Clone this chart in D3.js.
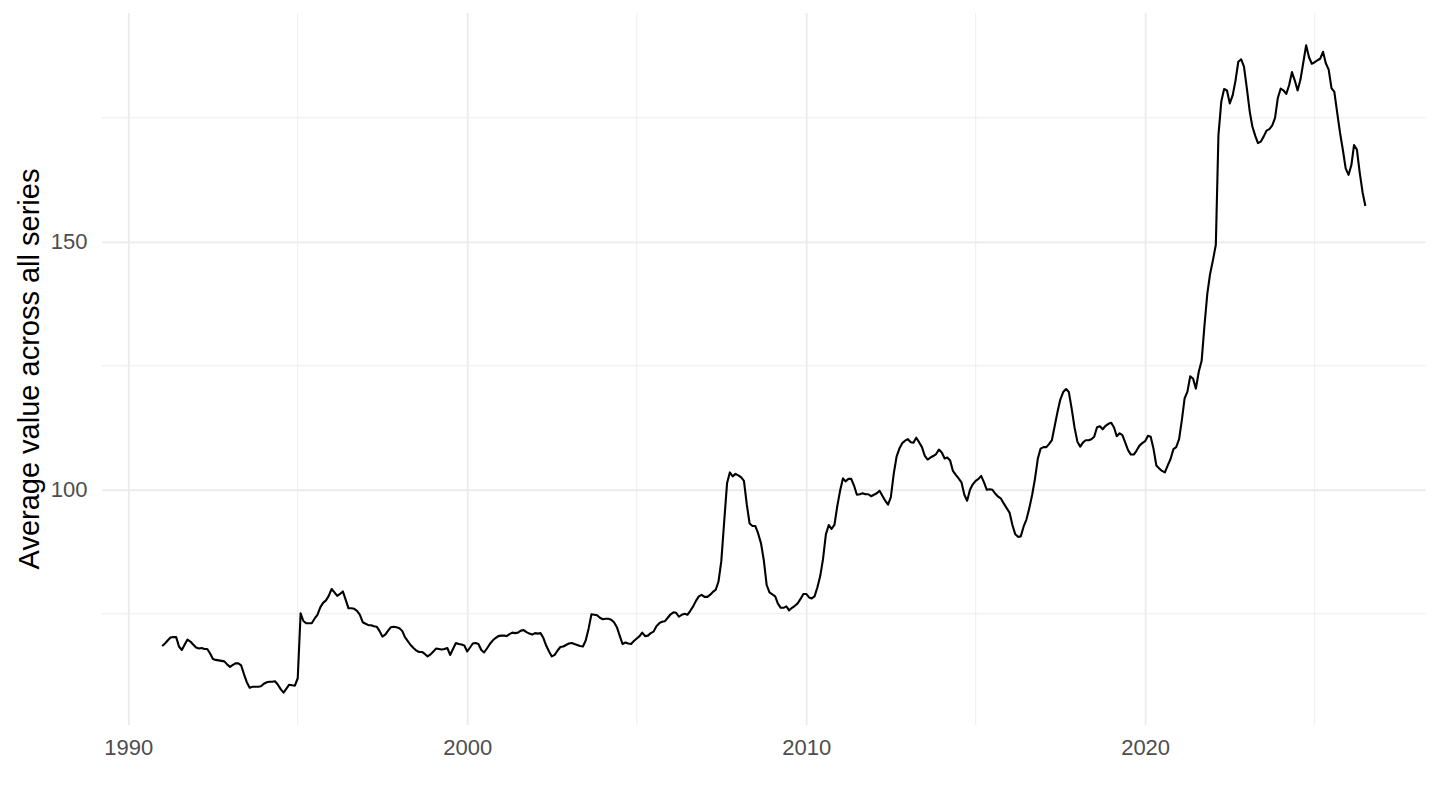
<!DOCTYPE html>
<html>
<head>
<meta charset="utf-8">
<script src="https://cdn.jsdelivr.net/npm/d3@7"></script>
<style>
  body { margin: 0; background: #fff; }
  svg text { font-family: "Liberation Sans", Arial, sans-serif; }
</style>
</head>
<body>
<svg id="chart" width="1440" height="810"></svg>
<script>
// monthly series, first value is Jan 1991
const firstMonth = "1991-01-01";
const avgValue = [
  68.5, 69.0, 69.6, 70.2, 70.3, 70.3, 68.4, 67.7, 68.8, 69.8, 69.4, 68.8,   // 1991
  68.2, 68.0, 68.1, 67.9, 67.9, 67.0, 65.9, 65.7, 65.6, 65.5, 65.4, 64.8,   // 1992
  64.3, 64.7, 65.0, 65.0, 64.6, 62.8, 61.2, 60.1, 60.3, 60.3, 60.3, 60.4,   // 1993
  60.9, 61.2, 61.3, 61.3, 61.4, 60.7, 59.8, 59.1, 59.9, 60.7, 60.6, 60.5,   // 1994
  62.0, 75.1, 73.6, 73.1, 73.1, 73.1, 74.0, 74.8, 76.3, 77.2, 77.7, 78.6,   // 1995
  80.0, 79.3, 78.6, 79.0, 79.5, 77.8, 76.1, 76.1, 76.0, 75.6, 74.8, 73.3,   // 1996
  73.0, 72.7, 72.7, 72.5, 72.4, 71.5, 70.4, 70.8, 71.6, 72.3, 72.4, 72.3,   // 1997
  72.1, 71.5, 70.3, 69.5, 68.7, 68.1, 67.6, 67.3, 67.3, 66.9, 66.4, 66.8,   // 1998
  67.4, 68.0, 67.9, 67.8, 67.9, 68.1, 66.7, 67.9, 69.1, 68.9, 68.8, 68.6,   // 1999
  67.4, 68.2, 69.0, 69.1, 68.9, 67.7, 67.2, 68.0, 68.9, 69.6, 70.1, 70.5,   // 2000
  70.6, 70.6, 70.5, 70.9, 71.2, 71.1, 71.2, 71.6, 71.7, 71.3, 71.0, 70.8,   // 2001
  71.1, 71.0, 71.1, 70.1, 68.6, 67.4, 66.4, 66.7, 67.6, 68.3, 68.4, 68.7,   // 2002
  69.0, 69.1, 68.9, 68.7, 68.5, 68.4, 69.6, 72.0, 74.9, 74.8, 74.7, 74.2,   // 2003
  73.9, 74.0, 74.0, 73.8, 73.3, 72.3, 70.6, 68.9, 69.2, 69.0, 68.9, 69.5,   // 2004
  70.0, 70.5, 71.2, 70.5, 70.6, 71.1, 71.4, 72.5, 73.1, 73.4, 73.5, 74.2,   // 2005
  74.9, 75.3, 75.2, 74.4, 74.8, 75.0, 74.8, 75.6, 76.5, 77.6, 78.5, 78.8,   // 2006
  78.4, 78.4, 78.8, 79.4, 79.8, 81.5, 85.6, 93.5, 101.3, 103.5, 102.7, 103.2, // 2007
  102.9, 102.5, 101.8, 97.0, 93.2, 92.7, 92.7, 91.2, 89.2, 85.8, 80.8, 79.3, // 2008
  78.9, 78.5, 77.1, 76.2, 76.2, 76.5, 75.7, 76.2, 76.6, 77.1, 78.0, 79.0,   // 2009
  79.0, 78.3, 78.1, 78.5, 80.3, 82.6, 86.0, 91.0, 92.9, 92.1, 92.9, 96.6,   // 2010
  99.8, 102.3, 101.7, 102.2, 102.2, 100.8, 99.0, 99.1, 99.3, 99.1, 99.1, 98.7, // 2011
  99.0, 99.3, 99.8, 98.8, 97.8, 97.0, 98.5, 103.2, 106.7, 108.3, 109.4, 109.9, // 2012
  110.2, 109.6, 109.5, 110.5, 109.6, 108.6, 106.9, 106.1, 106.5, 106.8, 107.2, 108.1, // 2013
  107.5, 106.3, 106.5, 105.9, 103.8, 103.0, 102.3, 101.5, 99.0, 97.8, 100.0, 101.1,  // 2014
  101.8, 102.2, 102.8, 101.5, 100.0, 100.1, 100.0, 99.2, 98.6, 98.2, 97.2, 96.3,     // 2015
  95.4, 92.9, 91.1, 90.5, 90.6, 92.6, 94.0, 96.3, 99.0, 102.2, 106.3, 108.3,         // 2016
  108.6, 108.6, 109.2, 110.0, 112.8, 115.7, 118.2, 119.7, 120.3, 119.7, 116.3, 112.6, // 2017
  109.7, 108.7, 109.5, 110.0, 110.0, 110.2, 110.7, 112.6, 112.8, 112.2, 112.9, 113.3, // 2018
  113.5, 112.5, 110.8, 111.4, 111.0, 109.5, 108.0, 107.1, 107.1, 107.9, 108.9, 109.4, // 2019
  109.8, 110.9, 110.7, 108.2, 104.9, 104.3, 103.8, 103.5, 104.9, 106.2, 108.2, 108.6, // 2020
  110.2, 114.2, 118.4, 119.8, 122.9, 122.4, 120.4, 123.8, 126.0, 133.0, 139.5, 143.5, // 2021
  146.3, 149.4, 171.5, 178.3, 180.8, 180.5, 177.9, 179.5, 182.5, 186.3, 186.8, 185.3, // 2022
  181.0, 176.3, 173.3, 171.4, 169.9, 170.2, 171.2, 172.4, 172.7, 173.4, 175.0, 179.0, // 2023
  180.9, 180.5, 179.8, 181.6, 184.2, 182.5, 180.5, 182.7, 186.2, 189.6, 187.2, 185.9, // 2024
  186.2, 186.6, 186.9, 188.3, 186.0, 184.7, 181.0, 180.2, 176.0, 172.0, 168.5, 164.8, // 2025
  163.5, 165.5, 169.5, 168.6, 164.0, 160.0, 157.2                                     // 2026
];

const yBreaks = [100, 150];
const yMinorBreaks = [75, 125, 175];
const xBreakYears = [1990, 2000, 2010, 2020];
const xMinorBreakYears = [1995, 2005, 2015, 2025];
const yTitle = "Average value across all series";

const width = 1440;
const height = 810;
const panel = { left: 102, right: 1425.5, top: 13, bottom: 725 };

const start = d3.utcParse("%Y-%m-%d")(firstMonth);
const series = avgValue.map((v, i) => ({ date: d3.utcMonth.offset(start, i), value: v }));

// ggplot-like 5% expansion on both axes
const expand = (lo, hi) => { const pad = (hi - lo) * 0.05; return [lo - pad, hi + pad]; };
const [t0, t1] = d3.extent(series, d => d.date).map(Number);
const xDomain = expand(t0, t1).map(t => new Date(t));
const yDomain = expand(...d3.extent(series, d => d.value));

const xScale = d3.scaleUtc().domain(xDomain).range([panel.left, panel.right]);
const yScale = d3.scaleLinear().domain(yDomain).range([panel.bottom, panel.top]);

const yearDate = y => new Date(Date.UTC(y, 0, 1));

const svg = d3.select("#chart");

// grid: minor first, then major
const grid = svg.append("g").attr("class", "grid");
grid.selectAll(".hminor").data(yMinorBreaks).join("line")
  .attr("x1", panel.left).attr("x2", panel.right)
  .attr("y1", d => yScale(d)).attr("y2", d => yScale(d))
  .attr("stroke", "#ebebeb").attr("stroke-width", 0.9);
grid.selectAll(".vminor").data(xMinorBreakYears).join("line")
  .attr("y1", panel.top).attr("y2", panel.bottom)
  .attr("x1", d => xScale(yearDate(d))).attr("x2", d => xScale(yearDate(d)))
  .attr("stroke", "#ebebeb").attr("stroke-width", 0.9);

// major grid via axes with full-length ticks
svg.append("g")
  .attr("transform", `translate(${panel.left},0)`)
  .call(d3.axisLeft(yScale).tickValues(yBreaks).tickSize(-(panel.right - panel.left)).tickFormat(""))
  .call(g => g.select(".domain").remove())
  .call(g => g.selectAll("line").attr("stroke", "#ebebeb").attr("stroke-width", 1.8));
svg.append("g")
  .attr("transform", `translate(0,${panel.bottom})`)
  .call(d3.axisBottom(xScale).tickValues(xBreakYears.map(yearDate)).tickSize(-(panel.bottom - panel.top)).tickFormat(""))
  .call(g => g.select(".domain").remove())
  .call(g => g.selectAll("line").attr("stroke", "#ebebeb").attr("stroke-width", 1.8));

// line
const line = d3.line()
  .x(d => xScale(d.date))
  .y(d => yScale(d.value));

svg.append("path")
  .datum(series)
  .attr("d", line)
  .attr("fill", "none")
  .attr("stroke", "#000")
  .attr("stroke-width", 2.1)
  .attr("stroke-linejoin", "round");

// tick labels
svg.append("g")
  .attr("transform", `translate(${panel.left},0)`)
  .call(d3.axisLeft(yScale).tickValues(yBreaks).tickSize(0).tickPadding(14.5))
  .call(g => g.select(".domain").remove())
  .call(g => g.selectAll("text").attr("fill", "#4d4d4d").style("font-size", "22px").attr("font-family", null));

svg.append("g")
  .attr("transform", `translate(0,${panel.bottom})`)
  .call(d3.axisBottom(xScale).tickValues(xBreakYears.map(yearDate)).tickSize(0).tickPadding(14.5).tickFormat(d3.utcFormat("%Y")))
  .call(g => g.select(".domain").remove())
  .call(g => g.selectAll("text").attr("fill", "#4d4d4d").style("font-size", "22px").attr("font-family", null));

// axis title
svg.append("text")
  .attr("transform", `translate(39,${(panel.top + panel.bottom) / 2}) rotate(-90)`)
  .attr("text-anchor", "middle")
  .attr("fill", "#000")
  .style("font-size", "29px")
  .text(yTitle);
</script>
</body>
</html>
